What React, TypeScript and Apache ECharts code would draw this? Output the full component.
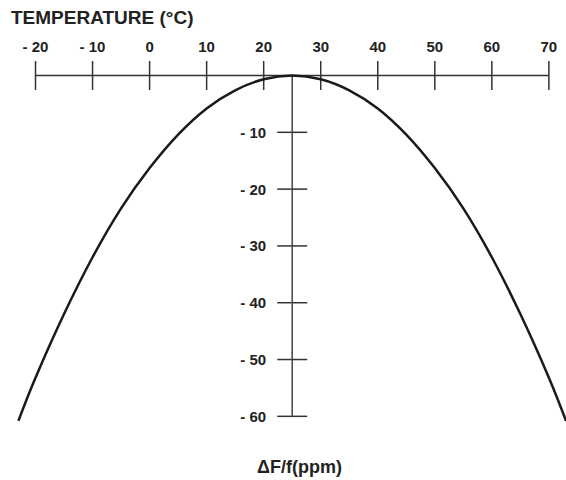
import React, { useEffect, useRef } from "react";
import * as echarts from "echarts";

const tempTicks = [-20, -10, 0, 10, 20, 30, 40, 50, 60, 70];
const tempLabels = ["- 20", "- 10", "0", "10", "20", "30", "40", "50", "60", "70"];
const ppmTicks = [-10, -20, -30, -40, -50, -60];
const ppmLabels = ["- 10", "- 20", "- 30", "- 40", "- 50", "- 60"];

const curveTemp = [-23, -20, -15, -10, -5, 0, 5, 10, 15, 20, 25, 30, 35, 40, 45, 50, 55, 60, 65, 70, 73];
const curvePpm = [-60.8, -53.2, -42.0, -32.0, -23.4, -16.3, -10.4, -5.8, -2.6, -0.65, 0, -0.65, -2.6, -5.8, -10.4, -16.3, -23.4, -32.0, -42.0, -53.2, -60.8];

const hAxisSpan = [-20, 70];
const vAxisTemp = 25;
const vAxisSpan = [0, -60];

const FONT = '"Liberation Sans", Arial, Helvetica, sans-serif';
const AXIS_COLOR = "#333";
const TEXT_COLOR = "#222";

export default function App() {
  const ref = useRef<HTMLDivElement>(null);
  useEffect(() => {
    if (!ref.current) return;
    const chart = echarts.init(ref.current, null, { renderer: "svg" });
    chart.setOption({
      animation: false,
      backgroundColor: "#fff",
      title: [
        {
          text: "TEMPERATURE (°C)",
          left: 11,
          top: 8,
          padding: 0,
          textStyle: { fontFamily: FONT, fontWeight: "bold", fontSize: 19, color: TEXT_COLOR },
        },
        {
          text: "ΔF/f(ppm)",
          left: 257,
          top: 458,
          padding: 0,
          textStyle: { fontFamily: FONT, fontWeight: "bold", fontSize: 18, color: TEXT_COLOR },
        },
      ],
      grid: { left: 18.4, right: 0, top: 75.5, bottom: 52.3 },
      xAxis: { type: "value", min: -23, max: 73, show: false },
      yAxis: { type: "value", min: -62, max: 0, show: false },
      series: [
        {
          type: "line",
          data: [[hAxisSpan[0], 0], [hAxisSpan[1], 0]],
          symbol: "none",
          lineStyle: { color: AXIS_COLOR, width: 1.5 },
          clip: false,
          silent: true,
        },
        {
          type: "line",
          data: [[vAxisTemp, vAxisSpan[0]], [vAxisTemp, vAxisSpan[1]]],
          symbol: "none",
          lineStyle: { color: "#444", width: 1.5 },
          clip: false,
          silent: true,
        },
        {
          type: "custom",
          clip: false,
          silent: true,
          data: tempTicks.map((t) => [t, 0]),
          renderItem: (params: any, api: any) => {
            const p = api.coord([api.value(0), api.value(1)]);
            return {
              type: "group",
              children: [
                {
                  type: "line",
                  shape: { x1: p[0], y1: p[1] - 14.5, x2: p[0], y2: p[1] + 14.5 },
                  style: { stroke: AXIS_COLOR, lineWidth: 1.5 },
                },
                {
                  type: "text",
                  style: {
                    text: tempLabels[params.dataIndex],
                    x: p[0],
                    y: p[1] - 29,
                    align: "center",
                    verticalAlign: "middle",
                    fontFamily: FONT,
                    fontWeight: "bold",
                    fontSize: 15,
                    fill: TEXT_COLOR,
                  },
                },
              ],
            };
          },
        },
        {
          type: "custom",
          clip: false,
          silent: true,
          data: ppmTicks.map((v) => [vAxisTemp, v]),
          renderItem: (params: any, api: any) => {
            const p = api.coord([api.value(0), api.value(1)]);
            return {
              type: "group",
              children: [
                {
                  type: "line",
                  shape: { x1: p[0] - 15, y1: p[1], x2: p[0] + 15, y2: p[1] },
                  style: { stroke: AXIS_COLOR, lineWidth: 1.5 },
                },
                {
                  type: "text",
                  style: {
                    text: ppmLabels[params.dataIndex],
                    x: p[0] - 26,
                    y: p[1],
                    align: "right",
                    verticalAlign: "middle",
                    fontFamily: FONT,
                    fontWeight: "bold",
                    fontSize: 15,
                    fill: TEXT_COLOR,
                  },
                },
              ],
            };
          },
        },
        {
          type: "line",
          data: curveTemp.map((t, i) => [t, curvePpm[i]]),
          symbol: "none",
          smooth: 0.4,
          lineStyle: { color: "#1a1a1a", width: 2.5 },
          clip: false,
          silent: true,
        },
      ],
    });
    return () => chart.dispose();
  }, []);
  return (
    <div
      ref={ref}
      style={{ position: "absolute", left: 0, top: 0, width: 566, height: 480 }}
    />
  );
}
